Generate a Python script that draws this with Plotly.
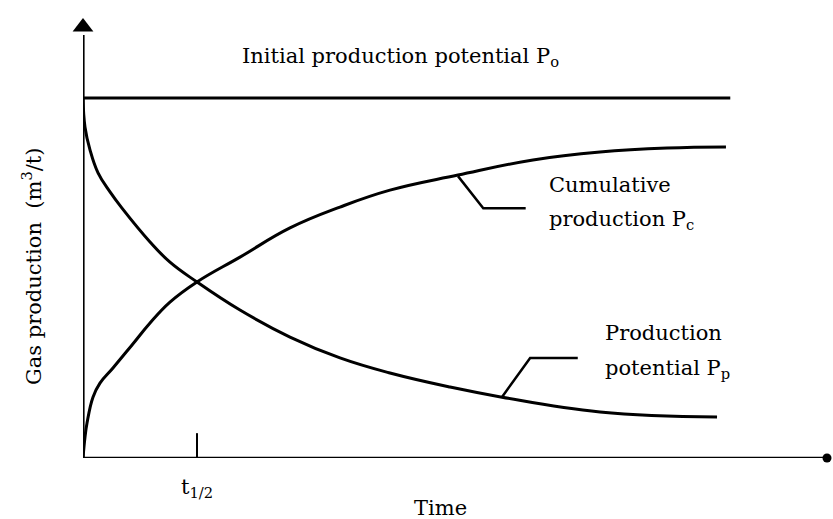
import plotly.graph_objects as go

# Data (time in arbitrary units 0-100, production relative to P0 = 100)
p0_time = [0, 87.0]
p0_value = [100, 100]

pp_time = [0, 0.27, 0.94, 2.02, 3.63, 5.24, 9.01, 11.69, 15.32, 21.10, 27.82, 34.54, 41.26, 49.33, 56.32, 69.49, 85.22]
pp_value = [100, 91.9, 85.6, 79.2, 73.9, 69.4, 60.0, 54.4, 48.9, 41.1, 33.6, 27.8, 23.6, 19.7, 16.9, 12.8, 11.4]

pc_time = [0, 0.27, 0.54, 1.34, 2.28, 4.03, 6.59, 9.01, 11.69, 15.32, 21.10, 27.82, 34.54, 41.26, 50.40, 60.48, 69.49, 78.49, 86.42]
pc_value = [0, 5.8, 9.7, 16.9, 20.8, 25.0, 31.4, 37.5, 43.3, 48.9, 55.8, 63.9, 69.7, 74.4, 78.6, 82.8, 85.0, 86.1, 86.4]

t_half = 15.32

pc_leader_t = [50.4, 53.8, 59.5]
pc_leader_v = [78.3, 69.4, 69.4]
pp_leader_t = [56.3, 60.1, 66.5]
pp_leader_v = [16.9, 27.8, 27.8]

X_MAX = 100
Y_MAX = 122.78

FONT = "DejaVu Serif"
BLACK = "#000000"

# plot-area geometry (pixels) used only to place the free text
L, T, W, H = 83, 16, 744, 442


def tx(px):
    return (px - L) / W * X_MAX


def py(pyx):
    return (T + H - pyx) / H * Y_MAX


def ppaper(pyx):
    return (T + H - pyx) / H


fig = go.Figure()


def line(x, y, w=3, shape="linear"):
    fig.add_trace(go.Scatter(x=x, y=y, mode="lines", cliponaxis=False,
                             line=dict(color=BLACK, width=w, shape=shape, smoothing=1.2),
                             hoverinfo="skip", showlegend=False))


# axes
line([0, 0], [0, 117.5], w=3.2)
line([0, X_MAX], [0, 0], w=2.5)
fig.add_trace(go.Scatter(x=[0], y=[py(27)], mode="markers", cliponaxis=False,
                         marker=dict(symbol="triangle-up", size=18, color=BLACK),
                         hoverinfo="skip", showlegend=False))
fig.add_trace(go.Scatter(x=[X_MAX], y=[0], mode="markers", cliponaxis=False,
                         marker=dict(symbol="circle", size=9, color=BLACK),
                         hoverinfo="skip", showlegend=False))
# t1/2 tick
line([t_half, t_half], [0, 6.9], w=2)

# series
line(p0_time, p0_value, w=3)
line(pp_time, pp_value, w=3, shape="spline")
line(pc_time, pc_value, w=3, shape="spline")
line(pc_leader_t, pc_leader_v, w=2.5)
line(pp_leader_t, pp_leader_v, w=2.5)

ann_font = dict(family=FONT, size=21, color=BLACK)


def label(x, y, text, xanchor="left", xref="x", yref="y", angle=0):
    return dict(x=x, y=y, xref=xref, yref=yref, text=text, xanchor=xanchor,
                yanchor="middle", showarrow=False, font=ann_font, textangle=angle)


annotations = [
    label(tx(240), py(57), "Initial production potential P<sub>o</sub>"),
    label(tx(547), py(185), "Cumulative"),
    label(tx(547), py(220), "production P<sub>c</sub>"),
    label(tx(603), py(333), "Production"),
    label(tx(603), py(369), "potential P<sub>p</sub>"),
    label(t_half, ppaper(488), "t<sub>1/2</sub>", xanchor="center", yref="paper"),
    label(tx(440), ppaper(508), "Time", xanchor="center", yref="paper"),
    label((32 - L) / W, py(267), "Gas production  (m<sup>3</sup>/t)", xanchor="center",
          xref="paper", angle=-90),
]

fig.update_layout(
    width=833, height=519,
    margin=dict(l=L, r=833 - L - W, t=T, b=519 - T - H),
    paper_bgcolor="white", plot_bgcolor="white",
    xaxis=dict(range=[0, X_MAX], visible=False, fixedrange=True),
    yaxis=dict(range=[0, Y_MAX], visible=False, fixedrange=True),
    annotations=annotations,
    showlegend=False,
)

fig.write_html("out.html", config={"displayModeBar": False},
               post_script="document.body.style.margin='0';")
